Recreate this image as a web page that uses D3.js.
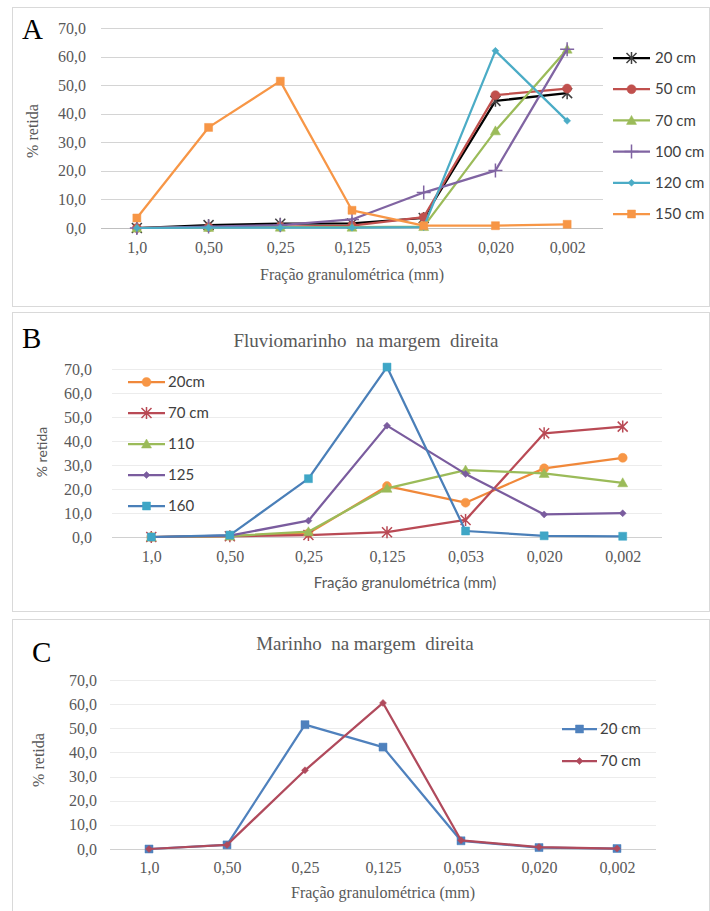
<!DOCTYPE html>
<html>
<head>
<meta charset="utf-8">
<script src="https://cdn.jsdelivr.net/npm/d3@7/dist/d3.min.js"></script>
<style>
  body { margin: 0; background: #fff; }
  text { white-space: pre; }
</style>
</head>
<body>
<svg id="fig" width="710" height="911"></svg>
<script>
// Categories (grain size fraction, mm) and y ticks
const categories = ["1,0", "0,50", "0,25", "0,125", "0,053", "0,020", "0,002"];
const yTicks = [0, 10, 20, 30, 40, 50, 60, 70];

// Panel A
const namesA = ["20 cm", "50 cm", "70 cm", "100 cm", "120 cm", "150 cm"];
const a20 = [0, 1.0, 1.5, 1.6, 3.5, 44.5, 47.2];
const a50 = [0, 0.3, 0.5, 0.8, 3.8, 46.5, 48.8];
const a70 = [0, 0.2, 0.3, 0.3, 0.5, 34.0, 62.6];
const a100 = [0, 0.5, 1.0, 3.0, 12.4, 20.1, 62.6];
const a120 = [0, 0.1, 0.1, 0.1, 0.3, 62.0, 37.5];
const a150 = [3.5, 35.2, 51.4, 6.2, 0.8, 0.8, 1.3];

// Panel B
const titleB = "Fluviomarinho  na margem  direita";
const namesB = ["20cm", "70 cm", "110", "125", "160"];
const b20 = [0, 0.5, 1.5, 21.2, 14.3, 28.6, 33.0];
const b70 = [0, 0.3, 0.8, 2.0, 7.1, 43.2, 46.0];
const b110 = [0, 0.4, 2.2, 20.3, 27.9, 26.5, 22.6];
const b125 = [0, 0.6, 6.8, 46.4, 26.3, 9.4, 9.9];
const b160 = [0, 0.8, 24.3, 70.8, 2.5, 0.5, 0.3];

// Panel C
const titleC = "Marinho  na margem  direita";
const namesC = ["20 cm", "70 cm"];
const c20 = [0, 1.7, 51.5, 42.2, 3.4, 0.6, 0.2];
const c70 = [0, 1.7, 32.6, 60.5, 3.6, 0.8, 0.2];

const svg = d3.select('#fig');
svg.append('rect').attr('width', 710).attr('height', 911).attr('fill', '#fff');

const SERIF = '"Liberation Serif", "DejaVu Serif", serif';
const SANS = 'Lato, "Open Sans", sans-serif';
const fmt = d => d3.format('.1f')(d).replace('.', ',');

// marker shapes
function markerPath(type) {
    switch (type) {
        case 'square': return 'M-4,-4H4V4H-4Z';
        case 'circle': return d3.symbol(d3.symbolCircle, 64)();
        case 'triangle': return 'M0,-5L5,4H-5Z';
        case 'smalldiamond': return 'M0,-3.5L3.5,0L0,3.5L-3.5,0Z';
        case 'star': return 'M-5,-5L5,5M-5,5L5,-5M0,-6V6';
        case 'plus': return 'M-7,0H7M0,-7V7';
    }
}
function isStroke(type) { return type === 'star' || type === 'plus'; }

function drawMarker(g, x, y, s) {
    const p = g.append('path')
        .attr('d', markerPath(s.marker))
        .attr('transform', `translate(${x},${y})`);
    if (isStroke(s.marker)) {
        p.attr('fill', 'none').attr('stroke', s.markerColor || s.color).attr('stroke-width', 1.5);
    } else {
        p.attr('fill', s.markerColor || s.color).attr('stroke', s.markerColor || s.color).attr('stroke-width', 0.5);
    }
}

function drawPanel(cfg) {
    // frame
    svg.append('rect')
        .attr('x', cfg.box.x + 0.5).attr('y', cfg.box.y + 0.5)
        .attr('width', cfg.box.w).attr('height', cfg.box.h)
        .attr('fill', '#fff').attr('stroke', '#d9d9d9');

    const x = d3.scalePoint().domain(categories).range([cfg.left, cfg.right]).padding(0.5);
    const y = d3.scaleLinear().domain([0, 70]).range([cfg.bottom, cfg.top]);

    // gridlines
    svg.append('g').selectAll('line').data(yTicks).join('line')
        .attr('x1', cfg.left).attr('x2', cfg.right)
        .attr('y1', d => Math.round(y(d)) + 0.5).attr('y2', d => Math.round(y(d)) + 0.5)
        .attr('stroke', d => d === 0 ? cfg.axisColor : cfg.gridColor)
        .attr('stroke-width', 1);

    // y axis labels
    const yAxis = svg.append('g')
        .attr('transform', `translate(${cfg.yLabelX},0)`)
        .call(d3.axisLeft(y).tickValues(yTicks).tickFormat(fmt).tickSize(0).tickPadding(0));
    yAxis.select('.domain').remove();
    yAxis.selectAll('text')
        .attr('font-family', SERIF).attr('font-size', 16).attr('fill', '#595959');

    // x axis labels
    const xAxis = svg.append('g')
        .attr('transform', `translate(0,${cfg.xLabelY})`)
        .call(d3.axisBottom(x).tickSize(0).tickPadding(0));
    xAxis.select('.domain').remove();
    xAxis.selectAll('text')
        .attr('font-family', SERIF).attr('font-size', 16).attr('fill', '#595959');

    // axis titles
    svg.append('text')
        .attr('x', cfg.xTitle[0]).attr('y', cfg.xTitle[1])
        .attr('text-anchor', 'middle')
        .attr('font-family', cfg.xTitleFont).attr('font-size', cfg.xTitleSize).attr('fill', '#595959')
        .text('Fração granulométrica (mm)');
    svg.append('text')
        .attr('transform', `translate(${cfg.yTitle[0]},${cfg.yTitle[1]}) rotate(-90)`)
        .attr('text-anchor', 'middle')
        .attr('font-family', cfg.yTitleFont).attr('font-size', cfg.yTitleSize).attr('fill', '#595959')
        .text('% retida');

    // title
    if (cfg.title) {
        svg.append('text')
            .attr('x', cfg.titlePos[0]).attr('y', cfg.titlePos[1])
            .attr('text-anchor', 'middle')
            .attr('font-family', SERIF).attr('font-size', 19).attr('fill', '#595959')
            .text(cfg.title);
    }

    // panel letter
    svg.append('text')
        .attr('x', cfg.letterPos[0]).attr('y', cfg.letterPos[1])
        .attr('font-family', SERIF).attr('font-size', 29).attr('fill', '#000')
        .text(cfg.letter);

    // series
    const line = d3.line().x((d, i) => x(categories[i])).y(d => y(d));
    cfg.series.forEach(s => {
        const g = svg.append('g');
        g.append('path').datum(s.values)
            .attr('d', line)
            .attr('fill', 'none').attr('stroke', s.color)
            .attr('stroke-width', 2.25).attr('stroke-linejoin', 'round');
        s.values.forEach((v, i) => drawMarker(g, x(categories[i]), y(v), s));
    });

    // legend
    const lg = svg.append('g');
    cfg.series.forEach((s, i) => {
        const ly = cfg.legend.y0 + i * cfg.legend.step;
        lg.append('line')
            .attr('x1', cfg.legend.x1).attr('x2', cfg.legend.x2)
            .attr('y1', ly).attr('y2', ly)
            .attr('stroke', s.color).attr('stroke-width', 2.25);
        drawMarker(lg, (cfg.legend.x1 + cfg.legend.x2) / 2, ly, s);
        lg.append('text')
            .attr('x', cfg.legend.tx).attr('y', ly).attr('dy', '0.35em')
            .attr('font-family', SANS).attr('font-size', 15).attr('fill', '#404040')
            .text(s.name);
    });
}

// Panel A
drawPanel({
    letter: 'A', letterPos: [22, 39],
    box: { x: 12, y: 7, w: 697, h: 299 },
    left: 101, right: 603, top: 28, bottom: 228,
    gridColor: '#d4d4d4', axisColor: '#bfbfbf',
    yLabelX: 86, xLabelY: 242,
    xTitle: [352, 280], xTitleFont: SERIF, xTitleSize: 16,
    yTitle: [38, 131], yTitleFont: SERIF, yTitleSize: 16,
    series: [
        { name: namesA[0], values: a20, color: '#000000', markerColor: '#404040', marker: 'star' },
        { name: namesA[1], values: a50, color: '#c0504d', marker: 'circle' },
        { name: namesA[2], values: a70, color: '#9bbb59', marker: 'triangle' },
        { name: namesA[3], values: a100, color: '#8064a2', marker: 'plus' },
        { name: namesA[4], values: a120, color: '#4bacc6', marker: 'smalldiamond' },
        { name: namesA[5], values: a150, color: '#f79646', marker: 'square' }
    ],
    legend: { x1: 613, x2: 650, tx: 655, y0: 58, step: 31.2 }
});

// Panel B
drawPanel({
    letter: 'B', letterPos: [22, 348], title: titleB, titlePos: [366, 347],
    box: { x: 12, y: 312, w: 697, h: 299 },
    left: 112, right: 662, top: 369, bottom: 537,
    gridColor: '#ececec', axisColor: '#d0d0d0',
    yLabelX: 92, xLabelY: 551,
    xTitle: [405, 588], xTitleFont: SANS, xTitleSize: 15,
    yTitle: [47, 452], yTitleFont: SANS, yTitleSize: 14,
    series: [
        { name: namesB[0], values: b20, color: '#f0883a', markerColor: '#f79646', marker: 'circle' },
        { name: namesB[1], values: b70, color: '#b94a55', marker: 'star' },
        { name: namesB[2], values: b110, color: '#9bbb59', marker: 'triangle' },
        { name: namesB[3], values: b125, color: '#7a5c9e', marker: 'smalldiamond' },
        { name: namesB[4], values: b160, color: '#4a7fb8', markerColor: '#3fa6c6', marker: 'square' }
    ],
    legend: { x1: 128, x2: 165, tx: 168, y0: 382, step: 31 }
});

// Panel C
drawPanel({
    letter: 'C', letterPos: [32, 662], title: titleC, titlePos: [365, 650],
    box: { x: 12, y: 619, w: 697, h: 300 },
    left: 110, right: 656, top: 680, bottom: 849,
    gridColor: '#ececec', axisColor: '#d0d0d0',
    yLabelX: 97, xLabelY: 862,
    xTitle: [383, 898], xTitleFont: SERIF, xTitleSize: 16,
    yTitle: [44, 760], yTitleFont: SERIF, yTitleSize: 16,
    series: [
        { name: namesC[0], values: c20, color: '#4f81bd', marker: 'square' },
        { name: namesC[1], values: c70, color: '#b04a5c', marker: 'smalldiamond' }
    ],
    legend: { x1: 562, x2: 597, tx: 600, y0: 729, step: 32 }
});
</script>
</body>
</html>
